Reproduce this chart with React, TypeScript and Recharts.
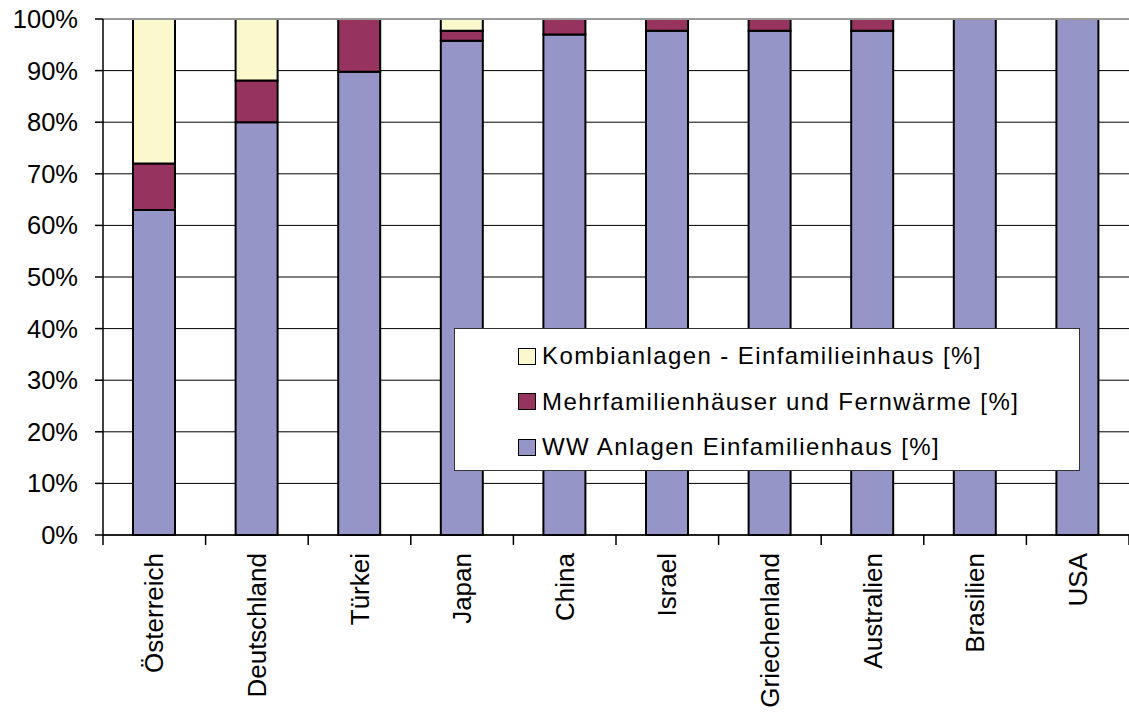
import React from "react";
import { BarChart, Bar, XAxis, YAxis, CartesianGrid, ReferenceLine } from "recharts";

const categories = ["Österreich", "Deutschland", "Türkei", "Japan", "China", "Israel", "Griechenland", "Australien", "Brasilien", "USA"];
const wwEinfamilien = [63, 80, 89.8, 95.8, 97, 97.7, 97.7, 97.7, 100, 100];
const mehrfamilien = [9, 8.1, 10.2, 1.9, 3, 2.3, 2.3, 2.3, 0, 0];
const kombianlagen = [28, 11.9, 0, 2.3, 0, 0, 0, 0, 0, 0];
const yTicks = [0, 10, 20, 30, 40, 50, 60, 70, 80, 90, 100];

const seriesInfo = [
  { key: "kombi", name: "Kombianlagen - Einfamilieinhaus [%]", color: "#FBF8CE" },
  { key: "mehr", name: "Mehrfamilienhäuser und Fernwärme [%]", color: "#96335F" },
  { key: "ww", name: "WW Anlagen Einfamilienhaus [%]", color: "#9595C8" },
];

const data = categories.map((c, i) => ({
  name: c,
  ww: wwEinfamilien[i],
  mehr: mehrfamilien[i],
  kombi: kombianlagen[i],
}));

const W = 1129;
const H = 715;
const LEFT = 103;
const BAND = (W - LEFT) / categories.length;
const FONT = "'Liberation Sans', Arial, sans-serif";

const XTick = (props: any) => {
  const { x, y, payload, index } = props;
  return (
    <g>
      <line x1={x - BAND / 2} y1={y} x2={x - BAND / 2} y2={y + 10} stroke="#000" strokeWidth={1.5} />
      {index === categories.length - 1 && (
        <line x1={x + BAND / 2} y1={y} x2={x + BAND / 2} y2={y + 10} stroke="#000" strokeWidth={1.5} />
      )}
      <text
        x={x}
        y={y + 18}
        dy="0.35em"
        transform={`rotate(-90, ${x}, ${y + 18})`}
        textAnchor="end"
        fontSize={26}
        fontFamily={FONT}
        fill="#000"
      >
        {payload.value}
      </text>
    </g>
  );
};

export default function App() {
  return (
    <div style={{ position: "absolute", left: 0, top: 0, width: W, height: H, background: "#fff" }}>
      <BarChart
        width={W}
        height={H}
        data={data}
        margin={{ top: 19, right: 0, left: 0, bottom: 0 }}
        barSize={42}
      >
        <CartesianGrid vertical={false} stroke="#000" strokeWidth={1} />
        <ReferenceLine y={100} stroke="#9a9a9a" strokeWidth={2} />
        <XAxis
          dataKey="name"
          height={180}
          interval={0}
          tickLine={false}
          tickSize={0}
          tickMargin={0}
          axisLine={{ stroke: "#000", strokeWidth: 1.5 }}
          tick={<XTick />}
        />
        <YAxis
          width={LEFT}
          domain={[0, 100]}
          ticks={yTicks}
          interval={0}
          tickFormatter={(v: number) => `${v}%`}
          tickSize={8}
          tickMargin={17}
          tickLine={{ stroke: "#000", strokeWidth: 1.5 }}
          axisLine={{ stroke: "#000", strokeWidth: 1.5 }}
          tick={{ fontSize: 25.5, fontFamily: FONT, fill: "#000" }}
        />
        <Bar dataKey="ww" stackId="a" fill="#9595C8" stroke="#000" strokeWidth={2} isAnimationActive={false} />
        <Bar dataKey="mehr" stackId="a" fill="#96335F" stroke="#000" strokeWidth={2} isAnimationActive={false} />
        <Bar dataKey="kombi" stackId="a" fill="#FBF8CE" stroke="#000" strokeWidth={2} isAnimationActive={false} />
      </BarChart>
      <div
        style={{
          position: "absolute",
          left: 454,
          top: 328,
          width: 626,
          height: 143,
          background: "#fff",
          border: "1.5px solid #333",
          boxSizing: "border-box",
          fontFamily: FONT,
          fontSize: 24,
          letterSpacing: 1.4,
          color: "#000",
        }}
      >
        {seriesInfo.map((s, i) => (
          <div
            key={s.key}
            style={{
              position: "absolute",
              left: 63,
              top: 12 + i * 45.5,
              height: 30,
              display: "flex",
              alignItems: "center",
              whiteSpace: "nowrap",
            }}
          >
            <span
              style={{
                display: "inline-block",
                width: 18,
                height: 17,
                background: s.color,
                border: "1.5px solid #000",
                boxSizing: "border-box",
                marginRight: 6,
              }}
            />
            <span>{s.name}</span>
          </div>
        ))}
      </div>
    </div>
  );
}
